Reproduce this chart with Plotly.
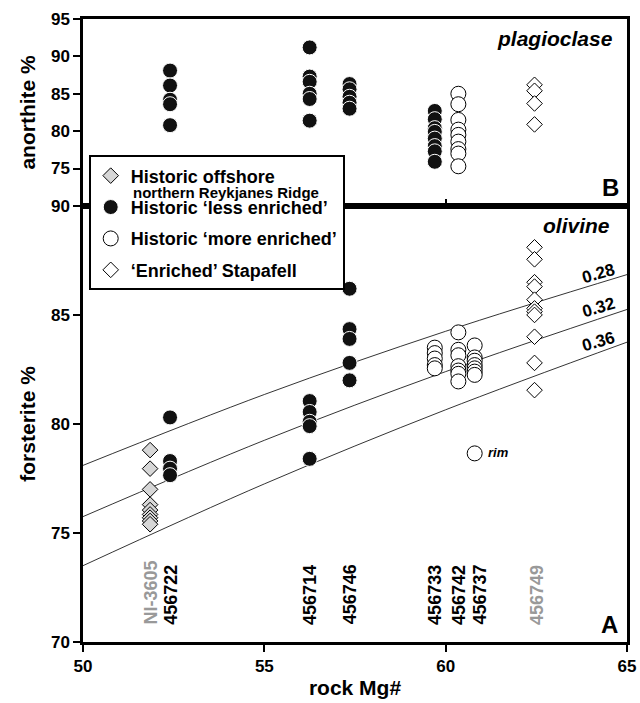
import plotly.graph_objects as go

FONT = "Liberation Sans, Arial, Helvetica, sans-serif"

# ---------------- data ----------------
# sample rock Mg# positions
mg_ni3605 = 51.85
mg_456722 = 52.4
mg_456714 = 56.25
mg_456746 = 57.35
mg_456733 = 59.7
mg_456742 = 60.35
mg_456737 = 60.8
mg_456749 = 62.45

# sample labels (name, x position, colour group)
label_names = ["NI-3605", "456722", "456714", "456746", "456733", "456742", "456737", "456749"]
label_x = [51.87, 52.43, 56.24, 57.35, 59.71, 60.35, 60.94, 62.5]
label_grey = [True, False, False, False, False, False, False, True]

# tick values
x_ticks = [50, 55, 60, 65]
fo_ticks = [70, 75, 80, 85, 90]
an_ticks = [75, 80, 85, 90, 95]

# plagioclase anorthite % (panel B)
an_456722 = [88.1, 86.1, 84.2, 83.6, 80.8]
an_456714 = [91.2, 87.3, 86.6, 85.0, 84.3, 81.4]
an_456746 = [86.3, 85.6, 84.6, 83.8, 83.0]
an_456733 = [82.7, 81.6, 80.4, 79.9, 79.0, 78.0, 77.3, 75.9]
an_456742 = [85.0, 83.6, 81.5, 80.2, 79.5, 78.6, 77.6, 77.0, 75.3]
an_456749 = [86.2, 85.4, 83.7, 80.9]

# olivine forsterite % (panel A)
fo_ni3605 = [78.8, 77.95, 77.0, 76.3, 76.05, 75.85, 75.7, 75.55, 75.4]
fo_456722 = [80.3, 78.3, 77.95, 77.65]
fo_456714 = [81.05, 80.55, 80.1, 79.9, 78.4]
fo_456746 = [86.2, 84.35, 83.9, 82.8, 82.0]
fo_456733 = [83.5, 83.25, 83.0, 82.7, 82.55]
fo_456742 = [84.2, 83.4, 83.15, 82.65, 82.45, 82.3, 81.95]
fo_456737 = [83.6, 83.05, 82.9, 82.7, 82.55, 82.4, 82.25]
fo_rim = [78.65]
fo_456749 = [88.1, 87.55, 86.5, 86.3, 85.7, 85.3, 85.15, 85.0, 84.0, 82.8, 81.55]

# Kd equilibrium lines, read at these Mg# values
kd_x = [50, 55, 60, 65]
kd_028 = [78.1, 81.35, 84.25, 86.85]
kd_032 = [75.75, 79.25, 82.4, 85.25]
kd_036 = [73.5, 77.25, 80.65, 83.75]
kd_labels = ["0.28", "0.32", "0.36"]
kd_label_y = [86.88, 85.35, 83.77]

# ---------------- figure ----------------
fig = go.Figure()

def xs(x, ys):
    return [x] * len(ys)

# Kd lines (bottom panel)
for ys in (kd_028, kd_032, kd_036):
    fig.add_trace(go.Scatter(x=kd_x, y=ys, mode="lines", line=dict(color="black", width=0.8, shape="spline"),
                             showlegend=False, hoverinfo="skip", xaxis="x", yaxis="y"))

black_marker = dict(symbol="circle", size=15, color="#111111", line=dict(color="white", width=1))
white_marker = dict(symbol="circle", size=15, color="white", line=dict(color="black", width=1))
grey_diamond = dict(symbol="diamond", size=12, color="#d6d6d6", line=dict(color="black", width=1))
white_diamond = dict(symbol="diamond", size=12, color="white", line=dict(color="black", width=1))

# panel A traces (with legend)
fig.add_trace(go.Scatter(x=xs(mg_ni3605, fo_ni3605), y=fo_ni3605, mode="markers", marker=grey_diamond,
                         name="Historic offshore", legendgroup="g1", xaxis="x", yaxis="y"))
fo_less_x = xs(mg_456722, fo_456722) + xs(mg_456714, fo_456714) + xs(mg_456746, fo_456746)
fo_less_y = fo_456722 + fo_456714 + fo_456746
fig.add_trace(go.Scatter(x=fo_less_x, y=fo_less_y, mode="markers", marker=black_marker,
                         name="Historic \u2018less enriched\u2019", legendgroup="g2", xaxis="x", yaxis="y"))
fo_more_x = xs(mg_456733, fo_456733) + xs(mg_456742, fo_456742) + xs(mg_456737, fo_456737)
fo_more_y = fo_456733 + fo_456742 + fo_456737
fig.add_trace(go.Scatter(x=fo_more_x, y=fo_more_y, mode="markers", marker=white_marker,
                         name="Historic \u2018more enriched\u2019", legendgroup="g3", xaxis="x", yaxis="y"))
fig.add_trace(go.Scatter(x=xs(mg_456749, fo_456749), y=fo_456749, mode="markers", marker=white_diamond,
                         name="\u2018Enriched\u2019 Stapafell", legendgroup="g4", xaxis="x", yaxis="y"))
fig.add_trace(go.Scatter(x=xs(mg_456737, fo_rim), y=fo_rim, mode="markers", marker=white_marker,
                         showlegend=False, xaxis="x", yaxis="y"))

# panel B traces
an_less_x = xs(mg_456722, an_456722) + xs(mg_456714, an_456714) + xs(mg_456746, an_456746) + xs(mg_456733, an_456733)
an_less_y = an_456722 + an_456714 + an_456746 + an_456733
fig.add_trace(go.Scatter(x=an_less_x, y=an_less_y, mode="markers", marker=black_marker,
                         showlegend=False, xaxis="x2", yaxis="y2"))
fig.add_trace(go.Scatter(x=xs(mg_456742, an_456742), y=an_456742, mode="markers", marker=white_marker,
                         showlegend=False, xaxis="x2", yaxis="y2"))
fig.add_trace(go.Scatter(x=xs(mg_456749, an_456749), y=an_456749, mode="markers", marker=white_diamond,
                         showlegend=False, xaxis="x2", yaxis="y2"))

# ---------------- annotations ----------------
ann = []
for name, lx, grey in zip(label_names, label_x, label_grey):
    ann.append(dict(x=lx, y=70.7, xref="x", yref="y", text=name, showarrow=False, textangle=-90,
                    xanchor="center", yanchor="bottom",
                    font=dict(family=FONT, size=18, weight="bold", color="#999999" if grey else "black")))
for t, ly in zip(kd_labels, kd_label_y):
    ann.append(dict(x=64.22, y=ly, xref="x", yref="y", text=t, showarrow=False, textangle=-16,
                    xanchor="center", yanchor="middle",
                    font=dict(family=FONT, size=17, weight="bold", color="black")))
ann.append(dict(x=61.12, y=78.67, xref="x", yref="y", text="rim", showarrow=False, xanchor="left",
                yanchor="middle", font=dict(family=FONT, size=13, weight="bold", style="italic", color="black")))
ann.append(dict(x=64.66, y=92.36, xref="x2", yref="y2", text="plagioclase", showarrow=False, xanchor="right",
                yanchor="middle", font=dict(family=FONT, size=21, weight="bold", style="italic", color="black")))
ann.append(dict(x=64.58, y=89.08, xref="x", yref="y", text="olivine", showarrow=False, xanchor="right",
                yanchor="middle", font=dict(family=FONT, size=21, weight="bold", style="italic", color="black")))
ann.append(dict(x=64.52, y=70.8, xref="x", yref="y", text="A", showarrow=False, xanchor="center",
                yanchor="middle", font=dict(family=FONT, size=24, weight="bold", color="black")))
ann.append(dict(x=64.55, y=72.45, xref="x2", yref="y2", text="B", showarrow=False, xanchor="center",
                yanchor="middle", font=dict(family=FONT, size=24, weight="bold", color="black")))
# second line of the first legend entry
ann.append(dict(x=0.0882, y=0.7222, xref="paper", yref="paper", text="northern Reykjanes Ridge", showarrow=False,
                xanchor="left", yanchor="middle", font=dict(family=FONT, size=15, weight="bold", color="black")))

tickfont = dict(family=FONT, size=17, weight="bold", color="black")
titlefont = dict(family=FONT, size=21, weight="bold", color="black")
axis_common = dict(showgrid=False, zeroline=False, showline=True, linecolor="black", linewidth=2.5,
                   mirror=True, tickcolor="black", tickwidth=2, ticklen=7, tickfont=tickfont,
                   automargin=False)

def bold(vals):
    return ["<b>%d</b>" % v for v in vals]

fig.update_layout(
    width=640, height=703,
    margin=dict(l=83, r=13, t=19, b=61),
    paper_bgcolor="white", plot_bgcolor="white",
    font=dict(family=FONT, color="black"),
    xaxis=dict(domain=[0, 1], anchor="y", range=[50, 65], tickvals=x_ticks, ticktext=bold(x_ticks),
               ticks="outside", title=dict(text="<b>rock Mg#</b>", font=titlefont, standoff=6), **axis_common),
    yaxis=dict(domain=[0, 0.70], anchor="x", range=[70, 90], tickvals=fo_ticks, ticktext=bold(fo_ticks),
               ticks="outside", title=dict(text="<b>forsterite %</b>", font=titlefont, standoff=10), **axis_common),
    xaxis2=dict(domain=[0, 1], anchor="y2", matches="x", range=[50, 65], tickvals=[60], ticks="inside",
                showticklabels=False, **axis_common),
    yaxis2=dict(domain=[0.70, 1], anchor="x2", range=[70, 95], tickvals=an_ticks, ticktext=bold(an_ticks),
                ticks="outside", title=dict(text="<b>anorthite %</b>", font=titlefont, standoff=10), **axis_common),
    legend=dict(x=0.0105, y=0.781, xanchor="left", yanchor="top", bgcolor="white", bordercolor="black",
                borderwidth=2, font=dict(family=FONT, size=18, weight="bold", color="black"),
                traceorder="grouped", tracegroupgap=5, valign="top", itemwidth=30),
    annotations=ann,
    showlegend=True,
)

fig.write_html("out.html", config={"displayModeBar": False},
               post_script="document.body.style.margin='0px';document.documentElement.style.overflow='hidden';")
